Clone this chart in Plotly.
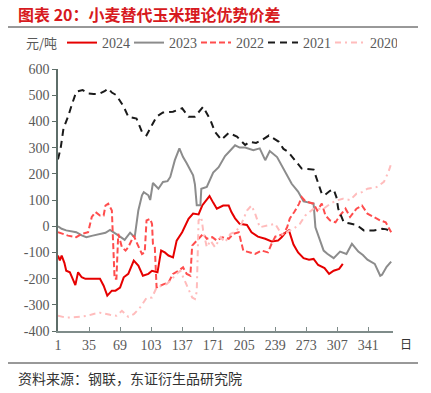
import plotly.graph_objects as go

# ---- data ----
days_2024 = [1,3,5,8,10,14,17,20,23,27,31,40,47,51,55,60,64,69,73,78,84,89,94,100,104,110,114,118,122,127,131,137,144,149,155,159,164,167,171,175,182,188,191,195,200,208,213,220,228,235,242,246,250,254,259,264,270,276,281,286,293,298,303,309,313]
vals_2024 = [-112,-131,-112,-140,-170,-176,-200,-225,-176,-195,-201,-201,-201,-227,-265,-246,-246,-234,-195,-182,-131,-150,-189,-182,-170,-176,-93,-100,-112,-119,-55,-23,28,48,45,79,100,115,90,67,79,79,54,30,9,5,-23,-40,-48,-58,-55,-42,-25,-16,-70,-100,-122,-128,-125,-148,-160,-182,-170,-163,-144]

days_2023 = [1,5,10,16,21,27,32,39,47,53,58,63,69,74,80,85,87,89,93,95,100,102,105,111,116,121,124,129,134,138,142,146,149,151,153,157,158,164,171,177,184,190,195,200,206,215,222,228,233,241,246,252,257,264,270,276,281,283,288,292,296,303,310,317,323,330,335,340,348,354,356,361,366]
vals_2023 = [0,-10,-16,-20,-23,-35,-42,-36,-29,-25,-14,-27,-40,-52,-25,-42,10,60,118,130,118,100,165,143,169,172,188,252,297,264,240,210,194,160,80,80,143,150,205,225,268,290,309,300,300,290,297,252,287,264,232,194,162,132,95,90,86,-4,-55,-93,-105,-122,-97,-106,-67,-97,-110,-128,-144,-189,-185,-155,-135]

days_2022 = [1,6,12,21,27,34,36,38,42,47,51,53,56,60,61,63,65,67,71,75,78,84,87,93,96,98,102,104,105,107,109,113,117,122,127,133,138,142,146,148,151,155,160,164,170,175,181,188,193,199,204,210,217,224,231,235,239,243,248,252,255,260,265,268,272,281,285,290,294,299,305,310,316,321,328,334,340,347,354,360,363,366]
vals_2022 = [-23,-30,-36,-42,-29,-23,9,35,54,41,41,79,86,60,-29,-201,-201,-29,-80,-93,-80,-36,-61,-106,-100,22,28,9,-67,-74,-234,-227,-221,-215,-182,-170,-157,-182,-189,-74,-61,-48,-29,-48,-42,-55,-42,-48,-29,-23,-93,-100,-106,-93,-100,-67,-40,-36,-30,-4,30,55,85,111,95,86,60,86,41,22,15,41,67,35,67,79,48,35,22,15,-4,-23]

days_2021 = [1,4,7,12,16,21,28,34,40,46,52,56,60,65,69,73,78,87,93,98,104,109,116,127,137,144,151,155,160,168,173,180,188,197,206,211,218,224,232,243,248,253,261,268,281,285,290,293,299,303,306,308,314,321,328,336,347,356,361,365]
vals_2021 = [255,300,373,418,462,513,520,507,505,505,515,526,510,500,478,456,418,411,360,347,386,418,434,437,450,418,418,437,456,405,360,330,356,342,310,322,318,328,346,322,295,284,252,220,216,172,124,118,135,140,111,67,15,10,5,-16,-16,-10,-12,-23]

days_2020 = [1,10,25,33,40,47,58,65,71,78,84,91,98,104,109,115,120,125,130,135,139,144,148,151,153,155,158,160,164,168,173,179,184,190,196,202,208,213,217,222,230,239,244,248,253,259,266,272,281,292,299,306,313,321,328,334,340,350,358,363,366]
vals_2020 = [-342,-349,-346,-342,-335,-330,-338,-342,-323,-346,-336,-310,-274,-272,-234,-227,-221,-205,-185,-170,-200,-240,-272,-278,-250,22,35,-16,-80,-55,-80,-42,-61,-29,-20,9,60,79,48,-4,3,9,-20,-35,-20,-10,9,41,67,67,85,98,105,100,124,130,143,149,169,207,239]

x_ticks = [1, 35, 69, 103, 137, 171, 205, 239, 273, 307, 341]
y_ticks = [-400, -300, -200, -100, 0, 100, 200, 300, 400, 500, 600]
y_ticktext = [str(v) for v in y_ticks]  # plain hyphen minus, as in the reference

series = [
    ("2024", days_2024, vals_2024, dict(color="#E60000", width=2, dash="solid")),
    ("2023", days_2023, vals_2023, dict(color="#8C8C8C", width=2, dash="solid")),
    ("2022", days_2022, vals_2022, dict(color="#FF4D4D", width=2, dash="6px,3px")),
    ("2021", days_2021, vals_2021, dict(color="#1A1A1A", width=2, dash="7px,5px")),
    ("2020", days_2020, vals_2020, dict(color="#FFBCBC", width=2, dash="6px,4px,2px,4px")),
]

fig = go.Figure()
for name, xs, ys, ln in series:
    fig.add_trace(go.Scatter(x=xs, y=ys, name=name, mode="lines", line=ln))

serif = "Liberation Serif, Times New Roman, serif"
cjk = "Noto Sans CJK SC, sans-serif"
tick_col = "#595959"

W, H = 431, 393
L, R, T, B = 58, 393, 69, 331  # plot area in pixels
PW, PH = R - L, B - T


def px(x):
    return (x - L) / PW


def py(y):
    return (B - y) / PH


fig.update_layout(
    width=W, height=H,
    margin=dict(l=L, r=W - R, t=T, b=H - B, autoexpand=False),
    paper_bgcolor="white", plot_bgcolor="white",
    showlegend=True,
    legend=dict(orientation="h", xref="container", yref="container",
                x=62 / W, xanchor="left", y=(H - 43) / H, yanchor="middle",
                font=dict(family=serif, size=14, color=tick_col),
                entrywidth=22, entrywidthmode="pixels", itemwidth=30,
                bgcolor="rgba(0,0,0,0)", tracegroupgap=0),
    xaxis=dict(range=[1, 368], tickmode="array", tickvals=x_ticks,
               ticks="inside", ticklen=4, tickcolor="#7F8C8A",
               showline=True, linecolor="#7F8C8A", linewidth=2,
               showgrid=False, zeroline=False, automargin=False,
               tickfont=dict(family=serif, size=14, color=tick_col)),
    yaxis=dict(range=[-400, 600], tickmode="array", tickvals=y_ticks, ticktext=y_ticktext,
               ticks="outside", ticklen=4, tickcolor="#5E6E69",
               showline=True, linecolor="#5E6E69", linewidth=1.5,
               showgrid=False, zeroline=False, automargin=False,
               tickfont=dict(family=serif, size=14, color=tick_col)),
    shapes=[
        dict(type="line", xref="paper", yref="paper",
             x0=px(8), x1=px(418), y0=py(27), y1=py(27),
             line=dict(color="#333333", width=1)),
        dict(type="line", xref="paper", yref="paper",
             x0=px(8), x1=px(418), y0=py(363), y1=py(363),
             line=dict(color="#333333", width=1)),
    ],
    annotations=[
        dict(text="<b>图表 20：小麦替代玉米理论优势价差</b>", xref="paper", yref="paper",
             x=px(16), y=py(14), xanchor="left", yanchor="middle", showarrow=False,
             font=dict(family=cjk, size=16, color="#D71920")),
        dict(text="元/吨", xref="paper", yref="paper",
             x=px(24), y=py(43), xanchor="left", yanchor="middle", showarrow=False,
             font=dict(family=cjk, size=13, color=tick_col)),
        dict(text="日", xref="paper", yref="paper",
             x=px(406), y=py(343), xanchor="center", yanchor="middle", showarrow=False,
             font=dict(family=cjk, size=12, color="#333333")),
        dict(text="资料来源：钢联，东证衍生品研究院", xref="paper", yref="paper",
             x=px(16), y=py(378), xanchor="left", yanchor="middle", showarrow=False,
             font=dict(family=cjk, size=14, color="#333333")),
    ],
)

fig.write_html("out.html",
               config={"displayModeBar": False},
               post_script="document.body.style.margin='0';document.body.style.padding='0';")
